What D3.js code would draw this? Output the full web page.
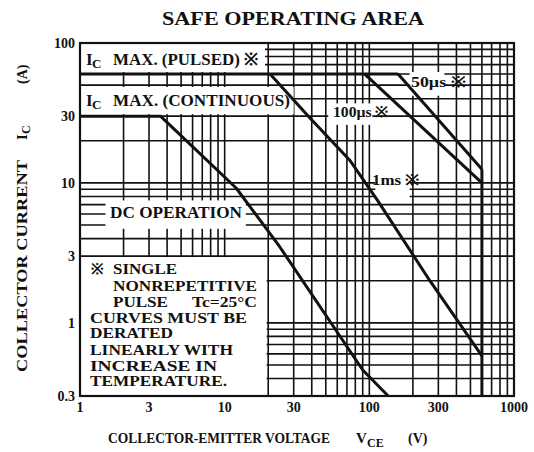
<!DOCTYPE html>
<html>
<head>
<meta charset="utf-8">
<script src="https://cdn.jsdelivr.net/npm/d3@7"></script>
<style>
  body { margin: 0; background: #fff; }
  svg text { font-family: "Liberation Serif", "DejaVu Serif", serif; font-weight: bold; fill: #111; }
</style>
</head>
<body>
<div id="chart"></div>
<script>
// ---- values (V, A) ----
var xTickVals = [1, 3, 10, 30, 100, 300, 1000];
var xTickLabels = ["1", "3", "10", "30", "100", "300", "1000"];
var yTickVals = [0.3, 1, 3, 10, 30, 100];
var yTickLabels = ["0.3", "1", "3", "10", "30", "100"];

// Ic max (pulsed) level and the SOA curves as [V, A]
var pulsedLimit = [[1, 60], [158, 60]];
var dcCurve = [[1, 30], [3.6, 30], [12, 9.2], [24, 3.5], [90, 0.46], [135, 0.3]];
var ms1Curve = [[20.6, 60], [39, 29], [73, 14.6], [113, 7.6], [262, 2.0], [600, 0.58]];
var us100Curve = [[93, 60], [600, 10]];
var us50Curve = [[158, 60], [600, 12.5]];
var vceLimit = [[600, 12.5], [600, 0.3]];

var noteLines = ["SINGLE", "NONREPETITIVE", "PULSE", "CURVES MUST BE", "DERATED",
                 "LINEARLY WITH", "INCREASE IN", "TEMPERATURE."];

// ---- layout ----
var width = 534, height = 452;
var plotL = 80, plotR = 514, plotT = 43, plotB = 396;

var svg = d3.select("#chart").append("svg")
    .attr("width", width)
    .attr("height", height);

var x = d3.scaleLog().domain([1, 1000]).range([plotL, plotR]);
var y = d3.scaleLog().domain([0.3, 100]).range([plotB, plotT]);

// full log grid
var grid = svg.append("g").attr("stroke", "#111").attr("stroke-width", 1.6);
grid.selectAll("line.v")
    .data(x.ticks())
    .enter().append("line")
    .attr("class", "v")
    .attr("x1", function(d) { return x(d); })
    .attr("x2", function(d) { return x(d); })
    .attr("y1", plotT)
    .attr("y2", plotB);
grid.selectAll("line.h")
    .data(y.ticks())
    .enter().append("line")
    .attr("class", "h")
    .attr("y1", function(d) { return y(d); })
    .attr("y2", function(d) { return y(d); })
    .attr("x1", plotL)
    .attr("x2", plotR);

// white areas behind the labels, given in chart units [v0, v1, a0, a1]
var boxes = [
  [1, 19, 62, 100],       // Ic max pulsed
  [1, 30, 31, 48.5],      // Ic max continuous
  [1.5, 14, 4.7, 7.5],    // DC operation
  [1, 19.5, 0.3, 2.95],   // note
  [52, 105, 26, 37],      // 100us
  [110, 190, 7.4, 10.8],  // 1ms
  [190, 330, 42, 62]      // 50us
];
svg.append("g").selectAll("rect")
    .data(boxes)
    .enter().append("rect")
    .attr("x", function(d) { return x(d[0]); })
    .attr("width", function(d) { return x(d[1]) - x(d[0]); })
    .attr("y", function(d) { return y(d[3]); })
    .attr("height", function(d) { return y(d[2]) - y(d[3]); })
    .attr("fill", "#fff");

// curves
var line = d3.line()
    .x(function(d) { return x(d[0]); })
    .y(function(d) { return y(d[1]); });

svg.append("g")
    .attr("fill", "none")
    .attr("stroke", "#111")
    .attr("stroke-width", 3)
    .attr("stroke-linejoin", "round")
    .selectAll("path")
    .data([pulsedLimit, dcCurve, ms1Curve, us100Curve, us50Curve, vceLimit])
    .enter().append("path")
    .attr("d", line);

// frame
svg.append("rect")
    .attr("x", plotL).attr("y", plotT)
    .attr("width", plotR - plotL).attr("height", plotB - plotT)
    .attr("fill", "none").attr("stroke", "#111").attr("stroke-width", 2.2);

// tick labels
svg.append("g").selectAll("text")
    .data(xTickVals)
    .enter().append("text")
    .attr("x", function(d) { return x(d); })
    .attr("y", 412)
    .attr("text-anchor", "middle")
    .attr("font-size", 14)
    .text(function(d, i) { return xTickLabels[i]; });

svg.append("g").selectAll("text")
    .data(yTickVals)
    .enter().append("text")
    .attr("x", 75)
    .attr("y", function(d) { return y(d) + 5; })
    .attr("text-anchor", "end")
    .attr("font-size", 14)
    .text(function(d, i) { return yTickLabels[i]; });

// title
svg.append("text")
    .attr("x", 162).attr("y", 25)
    .attr("font-size", 19)
    .attr("textLength", 262)
    .attr("lengthAdjust", "spacingAndGlyphs")
    .text("SAFE OPERATING AREA");

// axis titles
svg.append("text")
    .attr("x", 108).attr("y", 443)
    .attr("font-size", 14)
    .attr("textLength", 222)
    .attr("lengthAdjust", "spacingAndGlyphs")
    .text("COLLECTOR-EMITTER VOLTAGE");
svg.append("text").attr("x", 356).attr("y", 443).attr("font-size", 15).text("V");
svg.append("text").attr("x", 367).attr("y", 447).attr("font-size", 12).text("CE");
svg.append("text").attr("x", 408).attr("y", 443).attr("font-size", 14).text("(V)");

var yTitle = svg.append("g").attr("transform", "translate(27,0) rotate(-90)");
yTitle.append("text")
    .attr("x", -372).attr("y", 0)
    .attr("font-size", 14)
    .attr("textLength", 212)
    .attr("lengthAdjust", "spacingAndGlyphs")
    .text("COLLECTOR CURRENT");
yTitle.append("text").attr("x", -140).attr("y", 0).attr("font-size", 15).text("I");
yTitle.append("text").attr("x", -134).attr("y", 3).attr("font-size", 12).text("C");
yTitle.append("text").attr("x", -84).attr("y", 0).attr("font-size", 14).text("(A)");

// in-chart labels
function label(px, py, txt, size, len) {
  var t = svg.append("text")
      .attr("x", px).attr("y", py)
      .attr("font-size", size)
      .text(txt);
  if (len) t.attr("textLength", len).attr("lengthAdjust", "spacingAndGlyphs");
  return t;
}

label(86, 65, "I", 17);
label(92, 68, "C", 13);
label(113, 65, "MAX. (PULSED) \u203B", 17, 145);

label(86, 106, "I", 17);
label(92, 109, "C", 13);
label(113, 106, "MAX. (CONTINUOUS)", 17, 177);

label(110, 218, "DC OPERATION", 16, 132);

label(333, 117, "100\u00B5s \u203B", 15, 56);
label(372, 185, "1ms \u203B", 15, 48);
label(411, 87, "50\u00B5s \u203B", 15, 55);

// note block
var noteX = [113, 113, 113, 90, 90, 90, 90, 90];
var noteY = [274, 291, 307, 323, 338, 355, 371, 386];
var noteLen = [64, 144, 55, 157, 83, 143, 127, 137];
label(91, 274, "\u203B", 15);
noteLines.forEach(function(s, i) {
  label(noteX[i], noteY[i], s, 15.5, noteLen[i]);
});
label(192, 307, "Tc=25\u00B0C", 15, 65);
</script>
</body>
</html>
